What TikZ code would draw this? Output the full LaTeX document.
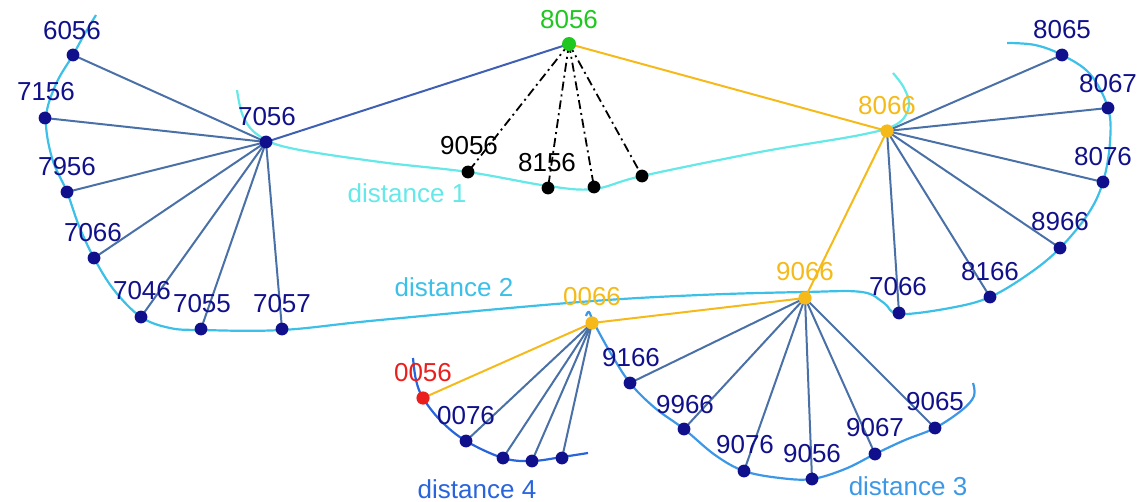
\documentclass[tikz,border=0pt]{standalone}
\usepackage{fontspec}
\setmainfont{Liberation Sans}
\usetikzlibrary{backgrounds}
\definecolor{navy}{RGB}{16,16,140}
\definecolor{edgec}{RGB}{74,112,168}
\definecolor{orangec}{RGB}{245,186,25}
\definecolor{greenc}{RGB}{30,200,30}
\definecolor{redc}{RGB}{235,30,30}
\definecolor{dist1}{RGB}{100,232,232}
\definecolor{dist2}{RGB}{60,192,232}
\definecolor{dist3}{RGB}{60,152,230}
\definecolor{dist4}{RGB}{40,100,220}
\tikzset{
  dot/.style={circle, fill=navy, inner sep=0pt, minimum size=6.4pt},
  hubo/.style={circle, fill=orangec, inner sep=0pt, minimum size=6.6pt},
  blackdot/.style={circle, fill=black, inner sep=0pt, minimum size=6.4pt},
  lbl/.style={text=navy, inner sep=0pt, font=\fontsize{13}{15}\selectfont},
  spoke/.style={draw=edgec, line width=1pt},
  tree/.style={draw=orangec, line width=1pt},
  probe/.style={draw=black, line width=0.9pt, dash pattern=on 4.5pt off 2pt on 1pt off 2pt},
  curve/.style={line width=1.1pt, smooth, tension=0.6}
}
\begin{document}
\begin{tikzpicture}[x=0.5pt, y=-0.5pt]
\useasboundingbox (0,0) rectangle (1138,502);

% hubs
\node[circle, fill=greenc, inner sep=0pt, minimum size=7pt] (g8056) at (569,44) {};
\node[dot] (h7056) at (266,142) {};
\node[hubo] (h8066) at (887,131) {};
\node[hubo] (h9066) at (805,298) {};
\node[hubo] (h0066) at (592,323) {};
\node[circle, fill=redc, inner sep=0pt, minimum size=6.6pt] (r0056) at (423,398) {};

% left fan
\node[dot] (a6056) at (73,55) {};
\node[dot] (a7156) at (45,118) {};
\node[dot] (a7956) at (67,192) {};
\node[dot] (a7066) at (94,258) {};
\node[dot] (a7046) at (141,317) {};
\node[dot] (a7055) at (201,329) {};
\node[dot] (a7057) at (282,329) {};

% right fan
\node[dot] (b8065) at (1062,55) {};
\node[dot] (b8067) at (1108,108) {};
\node[dot] (b8076) at (1103,182) {};
\node[dot] (b8966) at (1060,248) {};
\node[dot] (b8166) at (990,297) {};
\node[dot] (b7066) at (899,313) {};

% lower fan
\node[dot] (c9166) at (630,383) {};
\node[dot] (c9966) at (684,429) {};
\node[dot] (c9076) at (744,471) {};
\node[dot] (c9056) at (812,479) {};
\node[dot] (c9067) at (875,454) {};
\node[dot] (c9065) at (935,428) {};

% small fan
\node[dot] (d0076) at (466,441) {};
\node[dot] (d4a) at (503,458) {};
\node[dot] (d4b) at (532,461) {};
\node[dot] (d4c) at (562,458) {};

% probes
\node[blackdot] (k9056) at (468,172) {};
\node[blackdot] (k8156) at (548,188) {};
\node[blackdot] (k3) at (594,187) {};
\node[blackdot] (k4) at (642,176) {};

% labels
\node[lbl, text=greenc] (t8056) at (569,20) {8056};
\node[lbl] (t7056) at (267,117) {7056};
\node[lbl, text=orangec] (t8066) at (887,106) {8066};
\node[lbl, text=orangec] (t9066) at (805,272) {9066};
\node[lbl, text=orangec] (t0066) at (592,297) {0066};
\node[lbl, text=redc] (t0056) at (423,373) {0056};
\node[lbl] (t6056) at (72,31) {6056};
\node[lbl] (t7156) at (46,92) {7156};
\node[lbl] (t7956) at (67,167) {7956};
\node[lbl] (ta7066) at (93,233) {7066};
\node[lbl] (t7046) at (142,291) {7046};
\node[lbl] (t7055) at (202,304) {7055};
\node[lbl] (t7057) at (282,304) {7057};
\node[lbl] (t8065) at (1062,30) {8065};
\node[lbl] (t8067) at (1108,84) {8067};
\node[lbl] (t8076) at (1103,157) {8076};
\node[lbl] (t8966) at (1060,222) {8966};
\node[lbl] (t8166) at (990,272) {8166};
\node[lbl] (tb7066) at (898,287) {7066};
\node[lbl] (t9166) at (631,358) {9166};
\node[lbl] (t9966) at (685,405) {9966};
\node[lbl] (t9076) at (745,445) {9076};
\node[lbl] (tc9056) at (812,454) {9056};
\node[lbl] (t9067) at (875,428) {9067};
\node[lbl] (t9065) at (935,402) {9065};
\node[lbl] (t0076) at (466,416) {0076};
\node[lbl, text=black] (tk9056) at (469,146) {9056};
\node[lbl, text=black] (tk8156) at (547,163) {8156};
\node[lbl, text=dist1] (dl1) at (407,193) {distance 1};
\node[lbl, text=dist2] (dl2) at (454,287) {distance 2};
\node[lbl, text=dist3] (dl3) at (908,486) {distance 3};
\node[lbl, text=dist4] (dl4) at (477,489) {distance 4};

\begin{pgfonlayer}{background}
% distance curves
\draw[curve, dist1] plot coordinates {(237,90) (243,116) (258,135) (290,148) (380,162) (468,172) (548,186) (594,189) (642,176) (760,152) (860,135) (897,124) (909,106) (904,88) (893,73)};
\draw[curve, dist2] plot coordinates {(96,15) (84,35) (73,55) (56,84) (46,118) (52,158) (67,192) (79,226) (94,258) (114,290) (141,317) (170,328) (201,330) (282,330) (380,320) (580,302) (700,295) (805,292) (862,292) (884,303) (899,314) (950,308) (990,297) (1030,273) (1060,248) (1088,214) (1103,182) (1110,142) (1108,108) (1090,74) (1062,55) (1035,45) (1007,43)};
\draw[curve, dist3] plot coordinates {(586,316) (589,312) (594,323) (610,352) (630,383) (655,408) (684,429) (715,455) (744,471) (780,478) (812,479) (845,469) (875,454) (905,440) (935,428) (962,410) (974,396) (973,383)};
\draw[curve, dist4] plot coordinates {(413,358) (416,380) (423,398) (441,421) (466,441) (503,458) (532,461) (562,457) (588,453)};

% spokes
\foreach \n in {a6056,a7156,a7956,a7066,a7046,a7055,a7057}
  \draw[spoke] (h7056.center) -- (\n.center);
\foreach \n in {b8065,b8067,b8076,b8966,b8166,b7066}
  \draw[spoke] (h8066.center) -- (\n.center);
\foreach \n in {c9166,c9966,c9076,c9056,c9067,c9065}
  \draw[spoke] (h9066.center) -- (\n.center);
\foreach \n in {d0076,d4a,d4b,d4c}
  \draw[spoke] (h0066.center) -- (\n.center);
\draw[spoke, draw=edgec!85!blue] (h7056.center) -- (g8056.center);

% tree path
\draw[tree] (g8056.center) -- (h8066.center);
\draw[tree] (h8066.center) -- (h9066.center);
\draw[tree] (h9066.center) -- (h0066.center);
\draw[tree] (h0066.center) -- (r0056.center);

% probe lines
\foreach \n in {k9056,k8156,k3,k4}
  \draw[probe] (g8056.center) -- (\n.center);
\end{pgfonlayer}
\end{tikzpicture}
\end{document}
